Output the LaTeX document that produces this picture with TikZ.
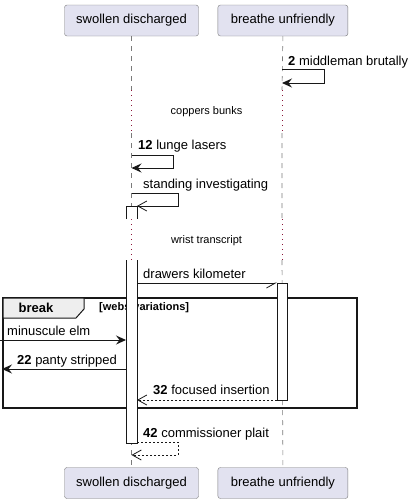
\documentclass[tikz,border=0pt]{standalone}
\usepackage{fontspec}
\setmainfont{Liberation Sans}
\usepackage{xcolor}
\definecolor{cPart}{HTML}{E2E2F0}
\definecolor{cLine}{HTML}{181818}
\definecolor{cGray}{HTML}{7A7A7A}
\definecolor{cDelay}{HTML}{8A1538}
\definecolor{cTab}{HTML}{EEEEEE}
\usetikzlibrary{positioning,arrows.meta}
\tikzset{
  node-part/.style={draw=cGray,fill=cPart,rounded corners=2.5pt,
    minimum height=31pt,inner sep=0pt,font=\fontsize{13}{15}\selectfont},
  node-msg/.style={anchor=base west,inner sep=0pt,font=\fontsize{13}{15}\selectfont},
  node-delay/.style={inner sep=0pt,font=\fontsize{11}{13}\selectfont},
  node-frame/.style={inner sep=0pt,font=\bfseries\fontsize{13}{15}\selectfont},
  lifeline/.style={dash pattern=on 5pt off 5pt,draw=cGray,line width=0.6pt},
  lifeline-delay/.style={dash pattern=on 1pt off 4pt,draw=cDelay,line width=1pt},
  act-box/.style={draw=cLine,line width=0.8pt},
  arrow/.style={-{Stealth[length=10pt,width=9pt,inset=3.5pt]},line width=1pt,draw=cLine},
  arrow-open/.style={-{Straight Barb[length=9pt,width=10pt]},line width=0.8pt,draw=cLine},
  arrow-half/.style={-{Straight Barb[length=9pt,width=10pt,right]},line width=0.8pt,draw=cLine},
  arrow-reply/.style={arrow-open,dash pattern=on 2pt off 2pt},
  frame-box/.style={draw=cLine,line width=1.5pt},
  frame-tab/.style={draw=cLine,fill=cTab,line width=1pt},
}

\begin{document}
\begin{tikzpicture}[x=1pt,y=-1pt]
  \useasboundingbox (0,0) rectangle (415,504);
  % participants
  \node[node-part,minimum width=134pt] (sw-top) at (131.5,20.5) {swollen discharged};
  \node[node-part,minimum width=130pt,right=19pt of sw-top] (br-top) {breathe unfriendly};
  \node[node-part,minimum width=134pt] (sw-bot) at (131.5,483) {swollen discharged};
  \node[node-part,minimum width=130pt,right=19pt of sw-bot] (br-bot) {breathe unfriendly};

  % lifelines, broken by the two delays
  \coordinate (sw-d1) at (131.5,90);  \coordinate (sw-d1e) at (131.5,133);
  \coordinate (sw-d2) at (131.5,219); \coordinate (sw-d2e) at (131.5,260);
  \coordinate (br-d1) at (282,90);    \coordinate (br-d1e) at (282,133);
  \coordinate (br-d2) at (282,219);   \coordinate (br-d2e) at (282,260);
  \draw[lifeline] (sw-top.south) -- (sw-d1) (sw-d1e) -- (sw-d2) (sw-d2e) -- (sw-bot.north);
  \draw[lifeline] (br-top.south) -- (br-d1) (br-d1e) -- (br-d2) (br-d2e) -- (br-bot.north);
  \draw[lifeline-delay] (sw-d1) -- (sw-d1e) (sw-d2) -- (sw-d2e);
  \draw[lifeline-delay] (br-d1) -- (br-d1e) (br-d2) -- (br-d2e);
  \node[node-delay] (delay-a) at (206.5,112) {coppers bunks};
  \node[node-delay] (delay-b) at (206.5,241) {wrist transcript};

  % break frame
  \draw[frame-box] (3,298) rectangle (357,408);
  \draw[frame-tab] (3,298) -- (84,298) -- (84,309) -- (76,318) -- (3,318) -- cycle;
  \node[node-frame] (brk) at (36,308) {break};
  \node[node-frame,anchor=west,font=\bfseries\fontsize{11}{13}\selectfont] (brk-cond) at (99,308) {[webs variations]};

  % activations
  \fill[white] (126,206) rectangle (137,219) (126,260) rectangle (137,443);
  \draw[act-box] (126,219) -- (126,206) -- (137,206) -- (137,219);
  \draw[act-box] (126,260) -- (126,443) -- (137,443) -- (137,260);
  \draw[act-box,fill=white] (277,283) rectangle (287,400);

  % messages
  \coordinate (m2-a) at (282,69);    \coordinate (m2-b) at (282,83);
  \draw[arrow] (m2-a) -- ++(42,0) |- (m2-b);
  \node[node-msg] (m2) at (288,65.5) {\textbf{2} middleman brutally};

  \coordinate (m12-a) at (131.5,155); \coordinate (m12-b) at (131.5,168);
  \draw[arrow] (m12-a) -- ++(41.5,0) |- (m12-b);
  \node[node-msg] (m12) at (138,149.5) {\textbf{12} lunge lasers};

  \coordinate (st-a) at (131.5,193); \coordinate (st-b) at (137,206);
  \draw[arrow-open] (st-a) -- ++(46.5,0) |- (st-b);
  \node[node-msg] (st) at (143,188) {standing investigating};

  \coordinate (dk-a) at (137,283); \coordinate (dk-b) at (277,283);
  \draw[arrow-half] (dk-a) -- (dk-b);
  \node[node-msg] (dk) at (143,278) {drawers kilometer};

  \coordinate (me-a) at (0,340); \coordinate (me-b) at (126,340);
  \draw[arrow] (me-a) -- (me-b);
  \node[node-msg] (me) at (7,335) {minuscule elm};

  \coordinate (m22-a) at (126,369); \coordinate (m22-b) at (2,369);
  \draw[arrow] (m22-a) -- (m22-b);
  \node[node-msg] (m22) at (17,364.5) {\textbf{22} panty stripped};

  \coordinate (m32-a) at (277,400); \coordinate (m32-b) at (137,400);
  \draw[arrow-reply] (m32-a) -- (m32-b);
  \node[node-msg] (m32) at (153,394.5) {\textbf{32} focused insertion};

  \coordinate (m42-a) at (137,442); \coordinate (m42-b) at (131.5,455);
  \draw[arrow-reply] (m42-a) -- ++(41,0) |- (m42-b);
  \node[node-msg] (m42) at (143,437.5) {\textbf{42} commissioner plait};
\end{tikzpicture}
\end{document}
